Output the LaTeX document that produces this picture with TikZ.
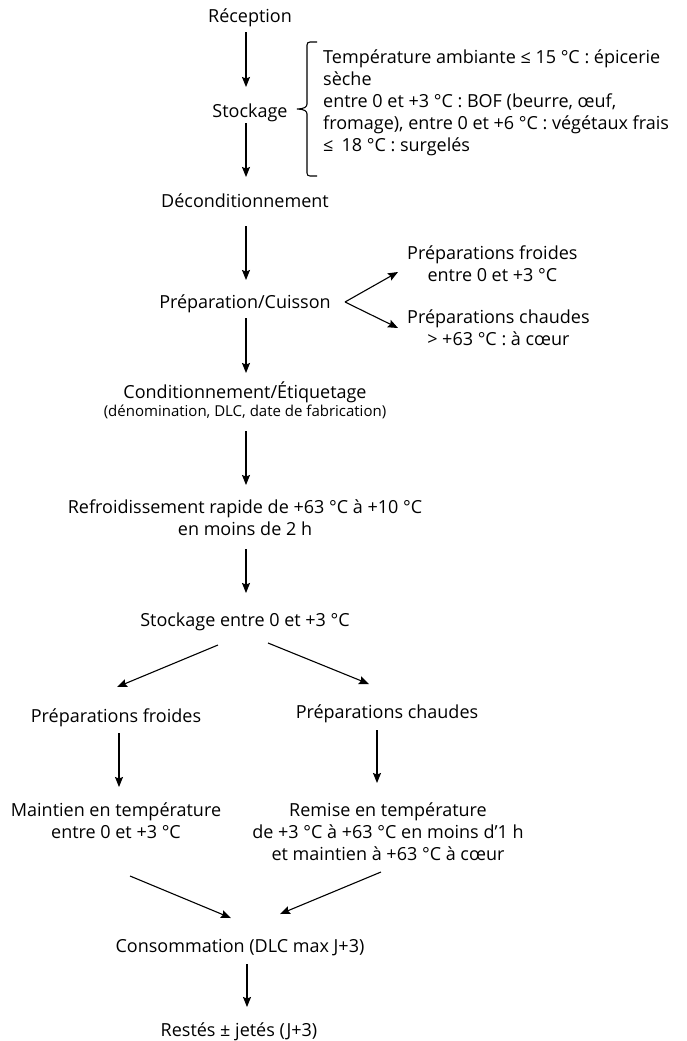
\documentclass[tikz,border=0pt]{standalone}
\usepackage{fontspec}
\setmainfont{Open Sans}
\usetikzlibrary{arrows.meta}
\begin{document}
\begin{tikzpicture}[x=1bp,y=-1bp,
  lbl/.style={inner sep=0pt, font=\fontsize{18bp}{22bp}\selectfont, align=center},
  arr/.style={-{Stealth[length=10bp,width=8bp,inset=1.5bp]}, line width=1.1bp},
  brace/.style={line width=1.1bp}]
\useasboundingbox (0,0) rectangle (687,1041);
% nodes (base = baseline of the last line)
\node[lbl,anchor=base] (rec) at (250,22) {Réception};
\node[lbl,anchor=base] (sto) at (250,117) {Stockage};
\node[lbl,align=left,anchor=base west] (info) at (323,151) {Température ambiante ≤ 15 °C : épicerie\\sèche\\entre 0 et +3 °C : BOF (beurre, œuf,\\fromage), entre 0 et +6 °C : végétaux frais\\≤\hspace{.45em}18 °C : surgelés};
\node[lbl,anchor=base] (dec) at (245,207) {Déconditionnement};
\node[lbl,anchor=base] (prep) at (245,308) {Préparation/Cuisson};
\node[lbl,anchor=base west] (pf) at (407,281) {Préparations froides\\entre 0 et +3 °C};
\node[lbl,anchor=base west] (pc) at (407,345) {Préparations chaudes\\> +63 °C : à cœur};
\node[lbl,anchor=base] (cond) at (245,416) {Conditionnement/Étiquetage\\[-4bp]{\fontsize{15bp}{18bp}\selectfont (dénomination, DLC, date de fabrication)}};
\node[lbl,anchor=base] (refr) at (245,535) {Refroidissement rapide de +63 °C à +10 °C\\en moins de 2 h};
\node[lbl,anchor=base] (sto2) at (245,626) {Stockage entre 0 et +3 °C};
\node[lbl,anchor=base] (pf2) at (116,722) {Préparations froides};
\node[lbl,anchor=base] (pc2) at (387,718) {Préparations chaudes};
\node[lbl,anchor=base] (main) at (116,838) {Maintien en température\\entre 0 et +3 °C};
\node[lbl,anchor=base] (rem) at (388,860) {Remise en température\\de +3 °C à +63 °C en moins d’1 h\\et maintien à +63 °C à cœur};
\node[lbl,anchor=base] (cons) at (240,952) {Consommation (DLC max J+3)};
\node[lbl,anchor=base] (rest) at (239,1036) {Restés ± jetés (J+3)};
% connectors
\draw[arr] ([shift={(-4,10)}]rec.base) -- ([shift={(-4,-30)}]sto.base);
\draw[arr] ([shift={(-4,6)}]sto.base) -- ([shift={(1,-30)}]dec.base);
\draw[arr] ([shift={(1,19)}]dec.base) -- ([shift={(1,-28)}]prep.base);
\draw[arr] ([shift={(1,10)}]prep.base) -- ([shift={(1,-43)}]cond.base);
\draw[arr] ([shift={(1,15)}]cond.base) -- ([shift={(1,-50)}]refr.base);
\draw[arr] ([shift={(1,14)}]refr.base) -- ([shift={(1,-33)}]sto2.base);
\draw[arr] ([shift={(-27,19)}]sto2.base) -- ([shift={(1,-35)}]pf2.base);
\draw[arr] ([shift={(23,17)}]sto2.base) -- ([shift={(-18,-34)}]pc2.base);
\draw[arr] ([shift={(3,11)}]pf2.base) -- ([shift={(3,-51)}]main.base);
\draw[arr] ([shift={(-10,12)}]pc2.base) -- ([shift={(-11,-77)}]rem.base);
\draw[arr] ([shift={(14,38)}]main.base) -- ([shift={(-9,-34)}]cons.base);
\draw[arr] ([shift={(-7,12)}]rem.base) -- ([shift={(40,-38)}]cons.base);
\draw[arr] ([shift={(7,12)}]cons.base) -- ([shift={(8,-29)}]rest.base);
\draw[arr] ([shift={(100,-6)}]prep.base) -- ([shift={(-9,-9)}]pf.base west);
\draw[arr] ([shift={(100,-6)}]prep.base) -- ([shift={(-9,-17)}]pc.base west);
% brace
\draw[brace] (317,42) -- (310,42) .. controls (308,42) and (307,43) .. (307,45) -- (307,104) .. controls (307,107) and (304,109) .. (297,109) .. controls (304,109) and (307,111) .. (307,114) -- (307,173) .. controls (307,175) and (308,176) .. (310,176) -- (317,176);
\end{tikzpicture}
\end{document}
